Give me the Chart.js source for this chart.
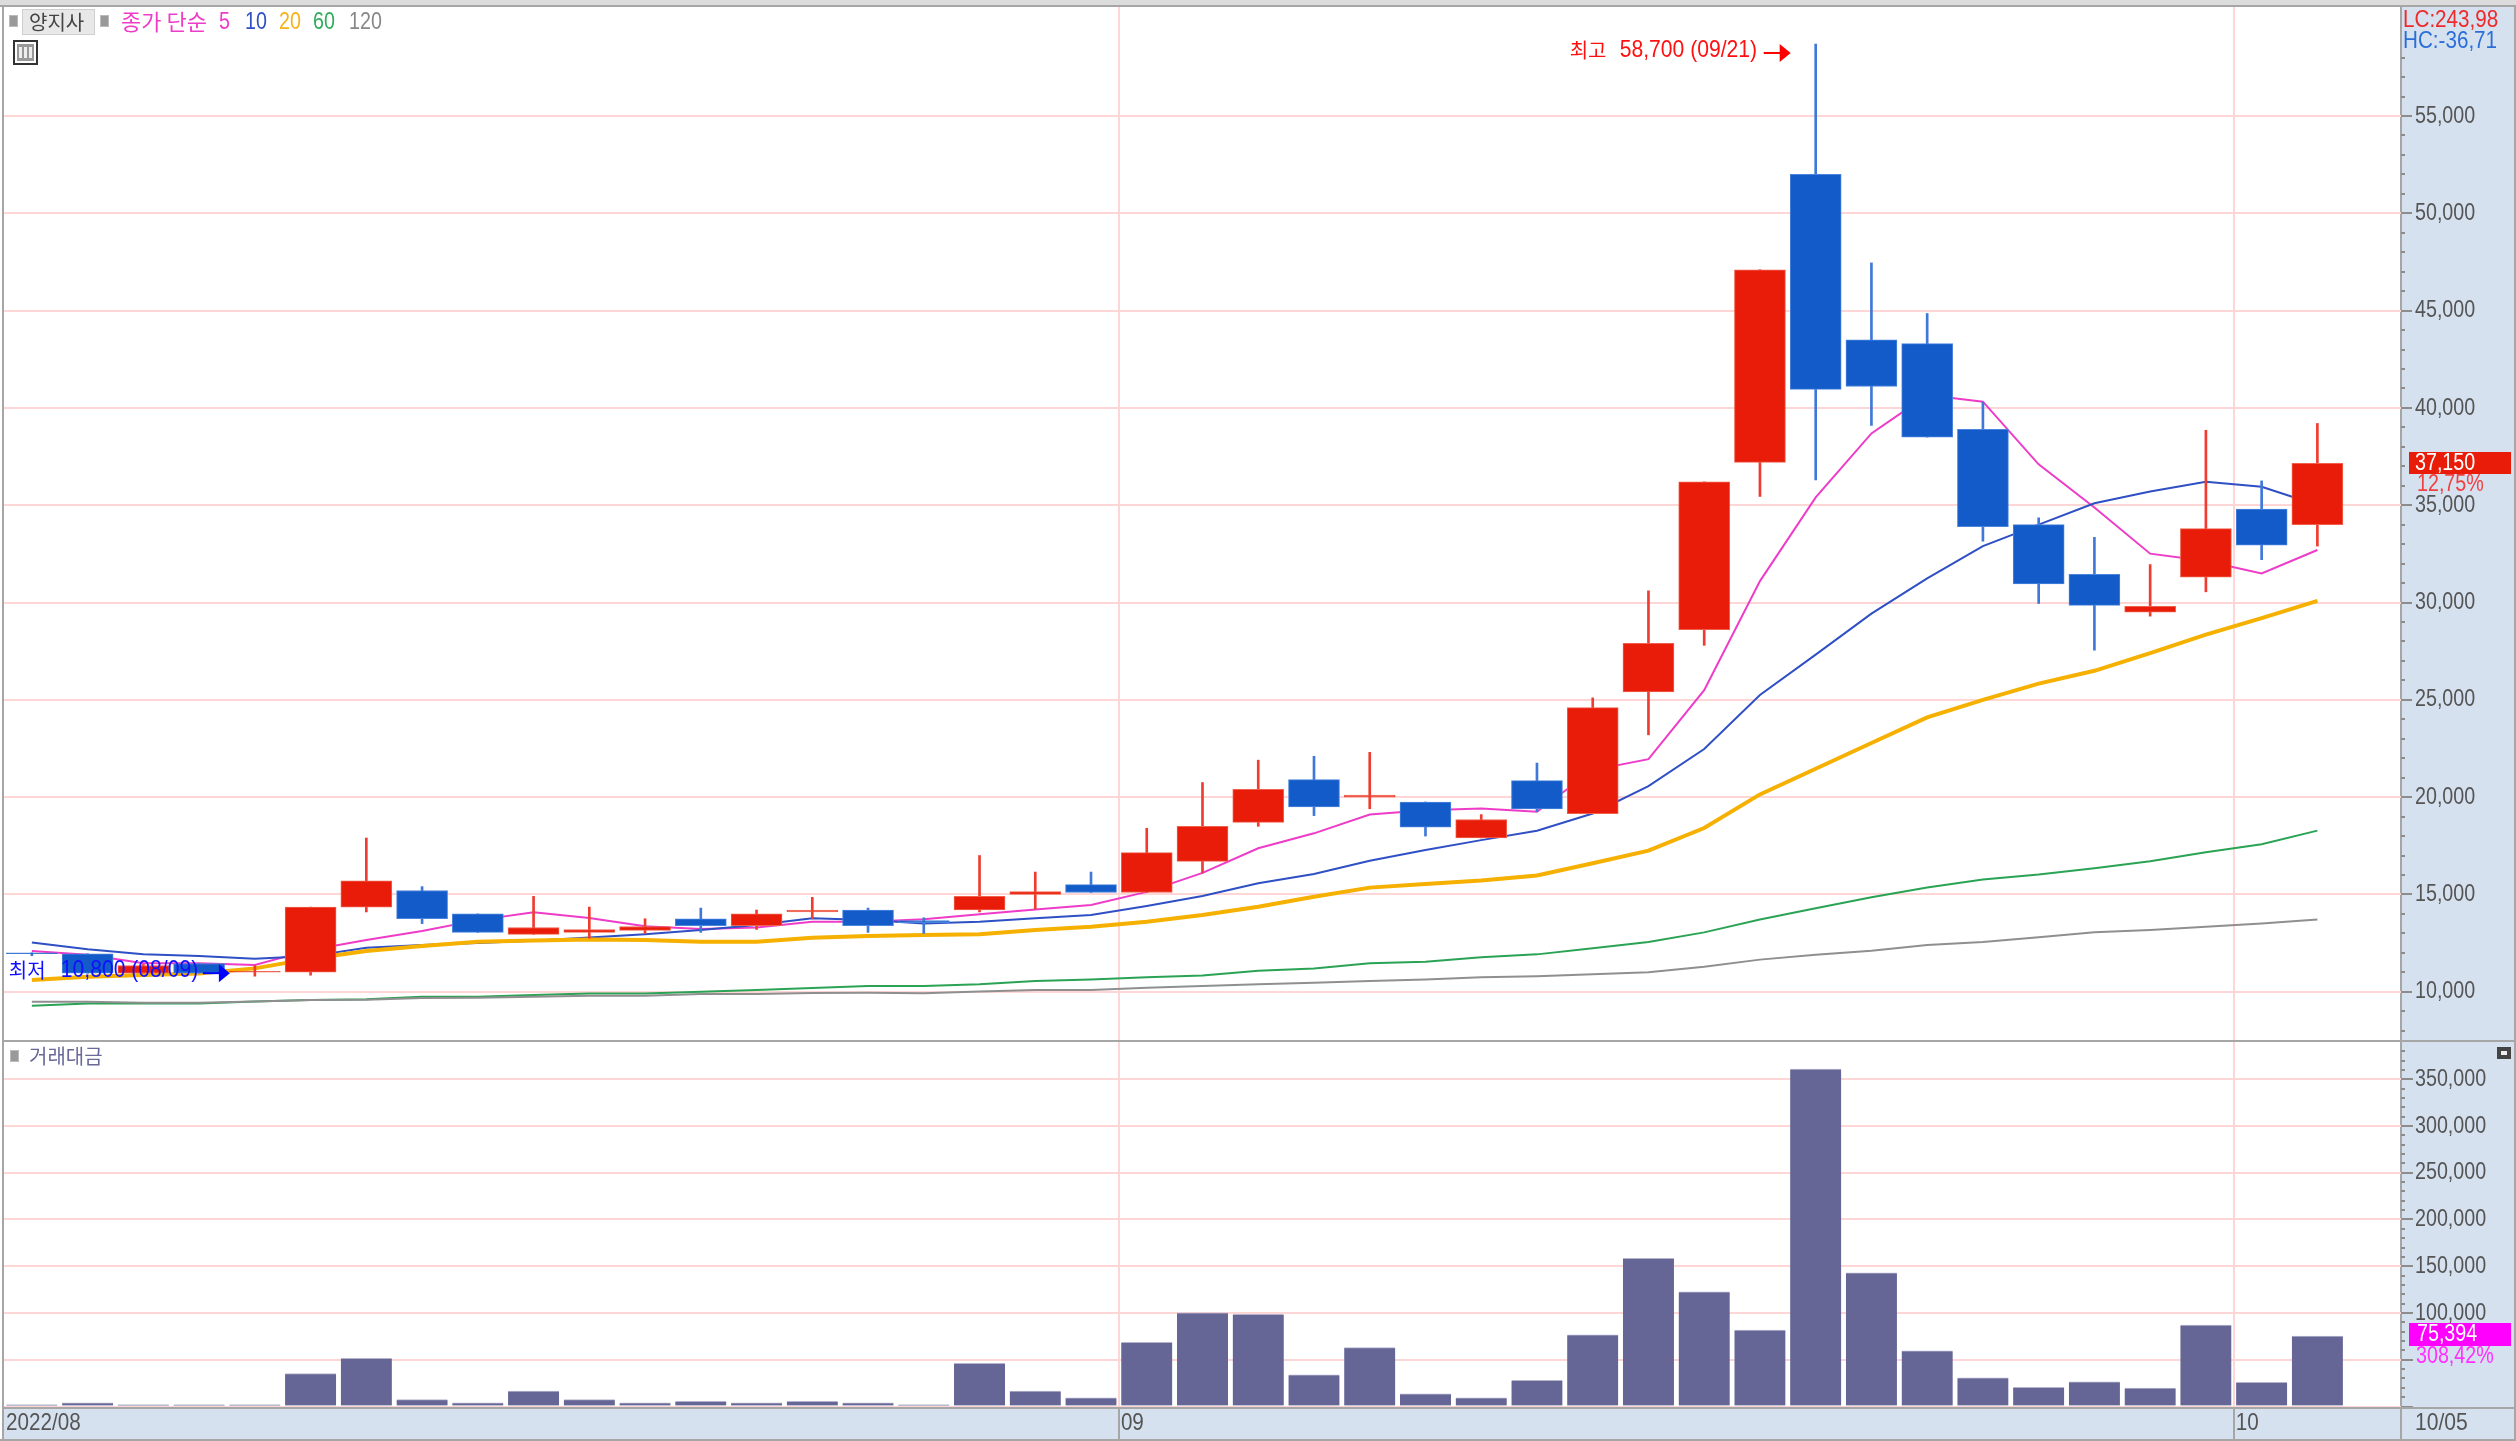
<!DOCTYPE html>
<html>
<head>
<meta charset="utf-8">
<title>양지사</title>
<script src="https://cdn.jsdelivr.net/npm/chart.js@4"></script>
<style>
html, body { margin: 0; padding: 0; background: #fff; overflow: hidden; }
canvas { position: absolute; left: 0; }
#price { top: 0; }
#volume { top: 1040px; }
</style>
</head>
<body>
<canvas id="price" width="2516" height="1040"></canvas>
<canvas id="volume" width="2516" height="401"></canvas>
<script>
const categories = [
    '08/03','08/04','08/05','08/08','08/09','08/10','08/11','08/12','08/16','08/17','08/18',
    '08/19','08/22','08/23','08/24','08/25','08/26','08/29','08/30','08/31','09/01','09/02',
    '09/05','09/06','09/07','09/08','09/13','09/14','09/15','09/16','09/19','09/20','09/21',
    '09/22','09/23','09/26','09/27','09/28','09/29','09/30','10/04','10/05',''
]
const opens = [12000,11950,10950,11450,11000,11000,14350,15200,14000,12950,13050,13150,13750,13400,14100,14200,13650,14200,15000,15500,15100,16700,18700,20900,20000,19750,17900,20850,19150,25400,28600,37200,52000,43500,43300,38900,34000,31450,29500,31300,34800,34000]
const closes = [11950,10950,11350,10950,11050,14350,15700,13750,13050,13300,13200,13350,13400,14000,14200,13400,13550,14900,15150,15100,17150,18500,20400,19500,20100,18450,18850,19400,24600,27900,36200,47100,40950,41100,38500,33900,30950,29850,29800,33800,32950,37150]
const highs = [12000,11950,11400,11450,11350,14350,17900,15400,14000,14900,14350,13750,14300,14200,14850,14300,13800,17000,16150,16150,18400,20750,21900,22100,22300,19750,19100,21750,25100,30600,36200,47100,58700,47450,44850,40300,34350,33350,31950,38850,36250,39200]
const lows = [11850,10950,10950,10950,10800,10850,14100,13500,13050,12950,12750,13000,13050,13200,13750,13050,13000,14100,14250,15100,15100,16100,18500,19050,19400,18000,17900,19250,19150,23200,27800,35450,36300,39100,38500,33150,29950,27550,29300,30550,32200,32900]

const ma5 = [12090,11900,11470,11470,11370,12150,12660,13120,13680,14080,13790,13370,13230,13300,13590,13590,13720,13980,14230,14460,15130,16110,17370,18140,19110,19330,19420,19250,21390,21950,25500,31100,35400,38690,40660,40320,37100,34880,32510,32130,31490,32700]
const ma10 = [12530,12180,11930,11830,11700,11830,12260,12400,12500,12620,12790,12960,13170,13430,13770,13680,13510,13600,13770,13940,14400,14920,15570,16050,16730,17280,17790,18270,19160,20570,22470,25250,27320,29430,31240,32900,34000,35100,35700,36210,35950,35010]
const ma20 = [10600,10770,10860,10940,11200,11700,12090,12350,12570,12630,12690,12660,12570,12570,12780,12860,12910,12950,13170,13340,13600,13940,14370,14880,15350,15540,15710,15970,16600,17250,18410,20140,21460,22780,24100,25000,25830,26490,27400,28350,29200,30080]
const ma60 = [9280,9400,9400,9400,9500,9570,9620,9740,9740,9830,9910,9910,10000,10090,10190,10290,10290,10380,10550,10630,10740,10840,11080,11200,11460,11540,11770,11920,12230,12560,13050,13710,14290,14860,15360,15770,16020,16350,16710,17170,17580,18280]
const ma120 = [9480,9480,9430,9430,9500,9570,9590,9680,9690,9740,9800,9800,9880,9880,9940,9950,9920,10010,10090,10090,10210,10290,10380,10460,10550,10630,10740,10800,10900,11000,11280,11650,11900,12100,12400,12550,12800,13060,13170,13340,13500,13710]
const volumes = [1800,3900,1800,1800,1800,35300,51600,7400,3900,16600,7400,3900,5600,3900,5600,3900,1800,46300,16600,9200,68600,100100,98700,34000,63000,13600,9400,28100,76600,158400,122600,81700,361000,143000,59600,30600,20400,26400,19800,87000,25800,75394]

const priceTicks = [10000,15000,20000,25000,30000,35000,40000,45000,50000,55000]
const volumeTicks = [0,50000,100000,150000,200000,250000,300000,350000]
const hiddenVolumeLabels = [0,50000]
const monthStarts = [0,20,40]
const monthLabels = ['2022/08','09','10']
const lastDate = '10/05'
const maLabels = ['10','20','60','120']

const RED = '#e81c08', BLUE = '#125bc9'
const RED_WICK = '#f03c30', BLUE_WICK = '#3f78d8'
const GRID = '#ffd6d6', LINE = '#a6a6a6', PANEL = '#d6e1ef', TEXT = '#555'
const LATIN = '"Liberation Sans", sans-serif'
const KOREAN = '"Noto Sans CJK KR", sans-serif'
const AXIS_LEFT = 2401
const PLOT_LEFT = 4
const SLOT = (AXIS_LEFT - PLOT_LEFT) / categories.length
const hiIndex = highs.indexOf(Math.max(...highs))
const loIndex = lows.indexOf(Math.min(...lows))

function rising(i){ return closes[i] >= opens[i] }

function text(ctx, str, x, y, color, font){
    ctx.fillStyle = color
    ctx.font = font
    ctx.textBaseline = 'middle'
    ctx.textAlign = 'left'
    ctx.fillText(str, x, y)
}

// the original screen font is much narrower than anything installed
function narrow(ctx, str, x, y, color, squeeze = 0.82){
    ctx.save()
    ctx.translate(x, y)
    ctx.scale(squeeze, 1)
    text(ctx, str, 0, 0, color, '24px ' + LATIN)
    ctx.restore()
}

function arrow(ctx, tip, y, color){
    ctx.fillStyle = color
    ctx.fillRect(tip - 27, y - 1, 20, 2)
    ctx.beginPath()
    ctx.moveTo(tip, y)
    ctx.lineTo(tip - 11, y - 9)
    ctx.lineTo(tip - 11, y + 9)
    ctx.closePath()
    ctx.fill()
}

function icon(ctx, x, y){
    ctx.fillStyle = '#999'
    ctx.fillRect(x, y, 7, 10)
    ctx.strokeStyle = '#bbb'
    ctx.lineWidth = 1
    ctx.strokeRect(x - 0.5, y - 0.5, 8, 11)
}

function drawAxis(chart, ticks, hidden, minorStep, minorFrom, minorTo, majorLen, minorLen){
    const ctx = chart.ctx, y = chart.scales.y
    ctx.fillStyle = '#8c8c8c'
    for (let v = minorFrom; v <= minorTo; v += minorStep){
        let len = ticks.includes(v) ? majorLen : minorLen
        ctx.fillRect(AXIS_LEFT, Math.round(y.getPixelForValue(v)) - 1, len, 2)
    }
    ticks.filter(v => !hidden.includes(v)).forEach(v => {
        narrow(ctx, v.toLocaleString('en-US'), 2415, y.getPixelForValue(v), TEXT)
    })
}

// panel colours and borders, shared by both charts
const framePlugin = {
    id: 'frame',
    beforeDraw(chart){
        const ctx = chart.ctx, h = chart.height
        ctx.fillStyle = PANEL
        ctx.fillRect(AXIS_LEFT, 0, 2514 - AXIS_LEFT, h)
        ctx.fillStyle = LINE
        ctx.fillRect(AXIS_LEFT - 1, 0, 2, h)
        ctx.fillRect(2, 0, 2, h)
        ctx.fillRect(2514, 0, 2, h)
    }
}

const pricePlugin = {
    id: 'priceDecor',
    beforeDraw(chart){
        const ctx = chart.ctx
        ctx.fillStyle = '#dcdcdc'
        ctx.fillRect(0, 0, 2516, 5)
        ctx.fillStyle = LINE
        ctx.fillRect(0, 5, 2516, 2)
    },
    afterDraw(chart){
        const ctx = chart.ctx, xs = chart.scales.x, ys = chart.scales.y
        drawAxis(chart, priceTicks, [], 1000, 8000, 58000, 11, 4)

        // high and low call-outs sit on the candles they point at
        let hx = xs.getPixelForValue(hiIndex), hy = ys.getPixelForValue(highs[hiIndex])
        text(ctx, '최고', hx - 246, hy + 6, '#ff1010', '20px ' + KOREAN)
        narrow(ctx, '58,700 (09/21)', hx - 196, hy + 6, '#ff1010', 0.88)
        arrow(ctx, hx - 25, hy + 9, '#ff0000')

        let lx = xs.getPixelForValue(loIndex), ly = ys.getPixelForValue(lows[loIndex])
        text(ctx, '최저', lx - 246, ly - 6, '#1010ff', '20px ' + KOREAN)
        narrow(ctx, '10,800 (08/09)', lx - 194, ly - 6, '#1010ff', 0.88)
        arrow(ctx, lx - 25, ly - 3, '#0000ff')

        // legend row
        icon(ctx, 10, 16)
        ctx.fillStyle = '#e8e8e8'
        ctx.fillRect(22, 9, 73, 26)
        ctx.strokeStyle = '#cfcfcf'
        ctx.strokeRect(22.5, 9.5, 72, 25)
        text(ctx, '양지사', 29, 22, '#444', '20px ' + KOREAN)
        icon(ctx, 101, 16)
        text(ctx, '종가 단순', 121, 22, '#ee3cc8', '22px ' + KOREAN)
        narrow(ctx, '5', 219, 22, '#ee3cc8')
        const colors = ['#2f4fc4', '#f7b21a', '#2fae5c', '#888']
        const lefts = [245, 279, 313, 349]
        maLabels.forEach((l, i) => narrow(ctx, l, lefts[i], 22, colors[i]))

        // table icon
        ctx.strokeStyle = '#333'
        ctx.lineWidth = 2
        ctx.strokeRect(14, 41, 23, 23)
        ctx.fillStyle = '#999'
        ctx.fillRect(17, 44, 17, 17)
        ctx.fillStyle = '#eee'
        for (let i = 0; i < 3; i++) ctx.fillRect(19 + i * 5, 47, 3, 11)

        narrow(ctx, 'LC:243,98', 2403, 20, '#ee2a2a', 0.86)
        narrow(ctx, 'HC:-36,71', 2403, 41, '#2a6fd8', 0.86)

        ctx.fillStyle = RED
        ctx.fillRect(2409, 452, 102, 22)
        narrow(ctx, closes[closes.length - 1].toLocaleString('en-US'), 2415, 463, '#fff')
        narrow(ctx, '12,75%', 2417, 484, '#f04040')
    }
}

const volumePlugin = {
    id: 'volumeDecor',
    beforeDraw(chart){
        const ctx = chart.ctx
        ctx.fillStyle = PANEL
        ctx.fillRect(4, 368, 2510, 32)
    },
    afterDraw(chart){
        const ctx = chart.ctx, xs = chart.scales.x
        drawAxis(chart, volumeTicks, hiddenVolumeLabels, 10000, 0, 380000, 12, 4)

        // divider on top, date strip at the bottom
        ctx.fillStyle = LINE
        ctx.fillRect(2, 0, 2514, 2)
        ctx.fillRect(2, 367, 2514, 2)
        ctx.fillRect(0, 399, 2516, 2)
        monthStarts.forEach((start, i) => {
            let edge = xs.getPixelForValue(start) - SLOT / 2
            if (i > 0) {
                ctx.fillStyle = LINE
                ctx.fillRect(Math.round(edge) - 1, 369, 2, 30)
            }
            narrow(ctx, monthLabels[i], edge + 2, 383, TEXT, 0.86)
        })
        ctx.fillStyle = LINE
        ctx.fillRect(AXIS_LEFT - 1, 369, 2, 30)

        icon(ctx, 11, 11)
        text(ctx, '거래대금', 29, 16, '#6a6a9a', '20px ' + KOREAN)
        narrow(ctx, lastDate, 2415, 383, TEXT, 0.88)

        ctx.fillStyle = '#444'
        ctx.fillRect(2497, 7, 14, 12)
        ctx.fillStyle = '#eee'
        ctx.fillRect(2501, 11, 6, 4)

        ctx.fillStyle = '#ff00ff'
        ctx.fillRect(2409, 283, 102, 23)
        narrow(ctx, volumes[volumes.length - 1].toLocaleString('en-US'), 2417, 294, '#fff')
        narrow(ctx, '308,42%', 2416, 316, '#ff30ff')
    }
}

function yAxis(tickList, min, max){
    return {
        position: 'right',
        min: min,
        max: max,
        afterBuildTicks: s => { s.ticks = tickList.map(v => ({ value: v })) },
        afterFit: s => { s.width = 2516 - AXIS_LEFT },
        border: { display: false },
        grid: { color: GRID, lineWidth: 2, drawTicks: false },
        ticks: { display: false }
    }
}

function xAxis(height){
    return {
        offset: true,
        afterFit: s => { s.height = height },
        border: { display: false },
        ticks: { display: false, autoSkip: false },
        grid: {
            offset: true,
            drawTicks: false,
            lineWidth: 2,
            color: c => monthStarts.slice(1).includes(c.index) ? GRID : 'transparent'
        }
    }
}

function lineSet(values, color, width){
    return { type: 'line', data: values, borderColor: color, borderWidth: width, pointRadius: 0, tension: 0, order: 3 }
}

new Chart(document.getElementById('price'), {
    type: 'bar',
    data: {
        labels: categories,
        datasets: [
            lineSet(ma120, '#8f8f8f', 2),
            lineSet(ma60, '#2aa354', 2),
            lineSet(ma20, '#f5b000', 4),
            lineSet(ma10, '#2f4fc4', 2),
            lineSet(ma5, '#ee3cc8', 2),
            {
                data: lows.map((l, i) => [l, highs[i]]),
                backgroundColor: lows.map((l, i) => rising(i) ? RED_WICK : BLUE_WICK),
                barThickness: 2,
                grouped: false,
                order: 2
            },
            {
                data: opens.map((o, i) => [o, closes[i]]),
                backgroundColor: opens.map((o, i) => rising(i) ? RED : BLUE),
                borderColor: opens.map((o, i) => rising(i) ? '#f0604c' : '#4a84dc'),
                borderWidth: 1,
                borderSkipped: false,
                barThickness: 51,
                grouped: false,
                order: 1
            }
        ]
    },
    options: {
        responsive: false,
        animation: false,
        layout: { padding: { left: PLOT_LEFT, top: 7 } },
        plugins: { legend: { display: false }, tooltip: { enabled: false } },
        scales: {
            x: xAxis(0),
            y: yAxis(priceTicks, 7520, 60600)
        }
    },
    plugins: [framePlugin, pricePlugin]
})

new Chart(document.getElementById('volume'), {
    type: 'bar',
    data: {
        labels: categories,
        datasets: [{
            data: volumes,
            backgroundColor: '#656596',
            borderColor: '#b4b4cc',
            borderWidth: { top: 1 },
            borderSkipped: false,
            barThickness: 51
        }]
    },
    options: {
        responsive: false,
        animation: false,
        layout: { padding: { left: PLOT_LEFT, top: 1 } },
        plugins: { legend: { display: false }, tooltip: { enabled: false } },
        scales: {
            x: xAxis(33),
            y: yAxis(volumeTicks, -1600, 390900)
        }
    },
    plugins: [framePlugin, volumePlugin]
})
</script>
</body>
</html>
